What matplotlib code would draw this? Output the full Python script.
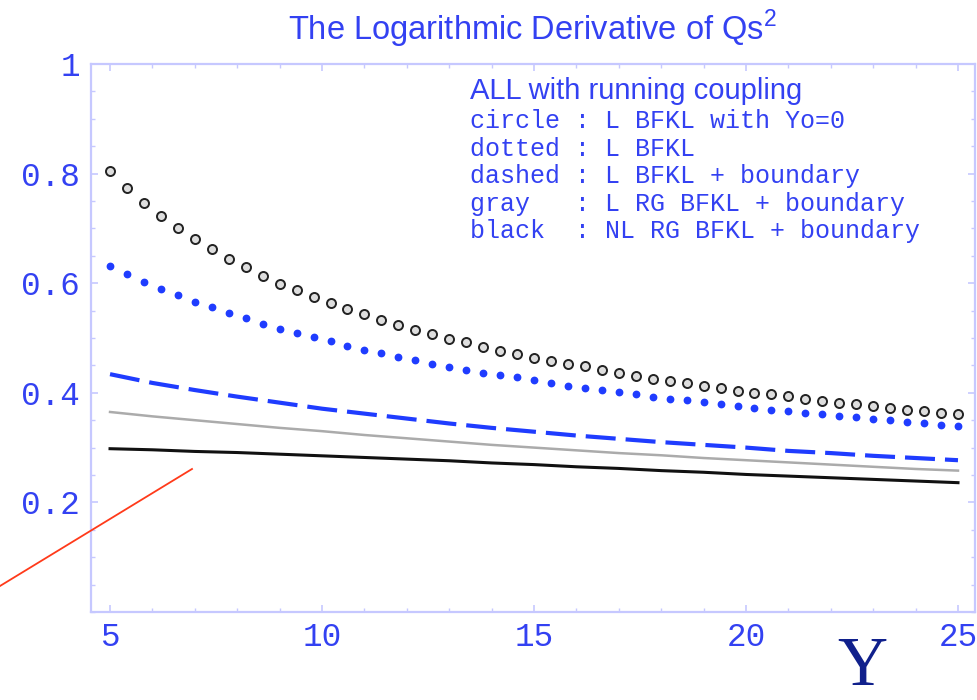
'''
The logarithmic derivative of Qs^2 versus rapidity Y, for several BFKL set-ups
(all with running coupling)
'''

import matplotlib.pyplot as plt
from matplotlib.lines import Line2D
from matplotlib.ticker import FixedLocator, MultipleLocator

plt.rcParams['mathtext.fontset'] = 'custom'
plt.rcParams['mathtext.rm'] = 'Liberation Sans'

# rapidity grid of the circle / dotted curves (one point every 0.4)
Y_fine = [round(5 + 0.4 * i, 1) for i in range(51)]
# rapidity grid of the continuous curves
Y_int = list(range(5, 26))

# circle : L BFKL with Yo=0
circle_vals = [0.805, 0.774, 0.747, 0.723, 0.700, 0.680, 0.662, 0.645, 0.629, 0.613,
               0.599, 0.587, 0.575, 0.563, 0.553, 0.543, 0.532, 0.523, 0.514, 0.507,
               0.498, 0.492, 0.484, 0.476, 0.470, 0.464, 0.458, 0.453, 0.448, 0.441,
               0.436, 0.431, 0.426, 0.422, 0.418, 0.412, 0.408, 0.403, 0.400, 0.397,
               0.394, 0.389, 0.385, 0.382, 0.379, 0.375, 0.372, 0.369, 0.366, 0.364,
               0.362]
# dotted : L BFKL
dotted_vals = [0.632, 0.616, 0.602, 0.590, 0.578, 0.566, 0.556, 0.545, 0.536, 0.526,
               0.517, 0.509, 0.501, 0.494, 0.486, 0.479, 0.472, 0.465, 0.459, 0.453,
               0.447, 0.442, 0.437, 0.432, 0.428, 0.423, 0.418, 0.412, 0.409, 0.405,
               0.401, 0.397, 0.392, 0.389, 0.386, 0.383, 0.379, 0.375, 0.372, 0.369,
               0.367, 0.364, 0.361, 0.358, 0.355, 0.353, 0.350, 0.347, 0.345, 0.342,
               0.339]
# dashed : L BFKL + boundary
dashed_vals = [0.434, 0.418, 0.405, 0.393, 0.382, 0.371, 0.362, 0.353, 0.344, 0.336,
               0.329, 0.322, 0.316, 0.310, 0.305, 0.300, 0.294, 0.290, 0.285, 0.281,
               0.277]
# gray : L RG BFKL + boundary
gray_vals = [0.365, 0.357, 0.350, 0.343, 0.336, 0.330, 0.323, 0.317, 0.311, 0.305,
             0.300, 0.295, 0.290, 0.286, 0.281, 0.277, 0.273, 0.269, 0.265, 0.261,
             0.258]
# black : NL RG BFKL + boundary
black_vals = [0.298, 0.296, 0.293, 0.291, 0.288, 0.285, 0.282, 0.279, 0.276, 0.272,
              0.269, 0.265, 0.262, 0.258, 0.255, 0.251, 0.248, 0.245, 0.242, 0.239,
              0.236]

y_ticks = [0.2, 0.4, 0.6, 0.8, 1.0]
y_tick_labels = ['0.2', '0.4', '0.6', '0.8', '1']
x_ticks = [5, 10, 15, 20, 25]

legend_title = 'ALL with running coupling'
legend_lines = ['circle : L BFKL with Yo=0',
                'dotted : L BFKL',
                'dashed : L BFKL + boundary',
                'gray   : L RG BFKL + boundary',
                'black  : NL RG BFKL + boundary']

BLUE_TXT = '#3341f2'
BLUE_LN = '#1f3cff'
FRAME = '#c6c8ff'

fig = plt.figure(figsize=(9.77, 7.0), dpi=100)
ax = fig.add_axes([0.0931, 0.1257, 0.9048, 0.7829])

# curves
ax.plot(Y_int, black_vals, color='#111111', lw=2.2, zorder=3)
ax.plot(Y_int, gray_vals, color='#ababab', lw=1.8, zorder=3)
ax.plot(Y_int, dashed_vals, color=BLUE_LN, lw=3.0, dashes=(7.2, 2.4),
        dash_capstyle='butt', zorder=3)
ax.plot(Y_fine, dotted_vals, ls='none', marker='o', ms=4.6, color=BLUE_LN,
        mec=BLUE_LN, zorder=4)
ax.plot(Y_fine, circle_vals, ls='none', marker='o', ms=6.5, mfc='#dedede',
        mec='#222222', mew=1.4, zorder=4)

ax.set_xlim(4.55, 25.4)
ax.set_ylim(0, 1.0)

# frame & ticks
for sp in ax.spines.values():
    sp.set_color(FRAME)
    sp.set_linewidth(1.6)
ax.xaxis.set_major_locator(FixedLocator(x_ticks))
ax.xaxis.set_minor_locator(MultipleLocator(1))
ax.yaxis.set_major_locator(FixedLocator(y_ticks))
ax.yaxis.set_minor_locator(MultipleLocator(0.05))
ax.set_yticklabels(y_tick_labels)
ax.tick_params(which='both', direction='in', color=FRAME, top=True, right=True,
               labelcolor=BLUE_TXT)
ax.tick_params(which='major', length=5, width=1.2)
ax.tick_params(which='minor', length=3, width=1.0)
ax.tick_params(axis='y', pad=8)
ax.tick_params(axis='x', pad=7)
for lab in ax.get_xticklabels() + ax.get_yticklabels():
    lab.set_fontfamily('Liberation Mono')
    lab.set_fontsize(23.5)

# title
fig.text(532 / 977, 1 - 40.5 / 700, r'The Logarithmic Derivative of Qs$^2$',
         ha='center', va='baseline', color=BLUE_TXT, fontsize=23.5,
         family='Liberation Sans')

# legend text block
ax.text(470 / 977, 1 - 99.3 / 700, legend_title, transform=fig.transFigure,
        color=BLUE_TXT, fontsize=21, family='Liberation Sans', va='baseline')
for i, line in enumerate(legend_lines):
    ax.text(470 / 977, 1 - (128.3 + 27.5 * i) / 700, line,
            transform=fig.transFigure, color=BLUE_TXT, fontsize=18,
            family='Liberation Mono', va='baseline')

# big Y axis label in the lower right corner
fig.text(862 / 977, 0.0, 'Y', ha='center', va='bottom',
         color='#10208c', fontsize=50, family='Liberation Serif')

# red pointer line
red_x = [0, 192 / 977]
red_y = [1 - 586 / 700, 1 - 469 / 700]
fig.add_artist(Line2D(red_x, red_y, transform=fig.transFigure,
                      color='#ff3a1a', lw=1.3))

plt.savefig('out.png', dpi=100)
